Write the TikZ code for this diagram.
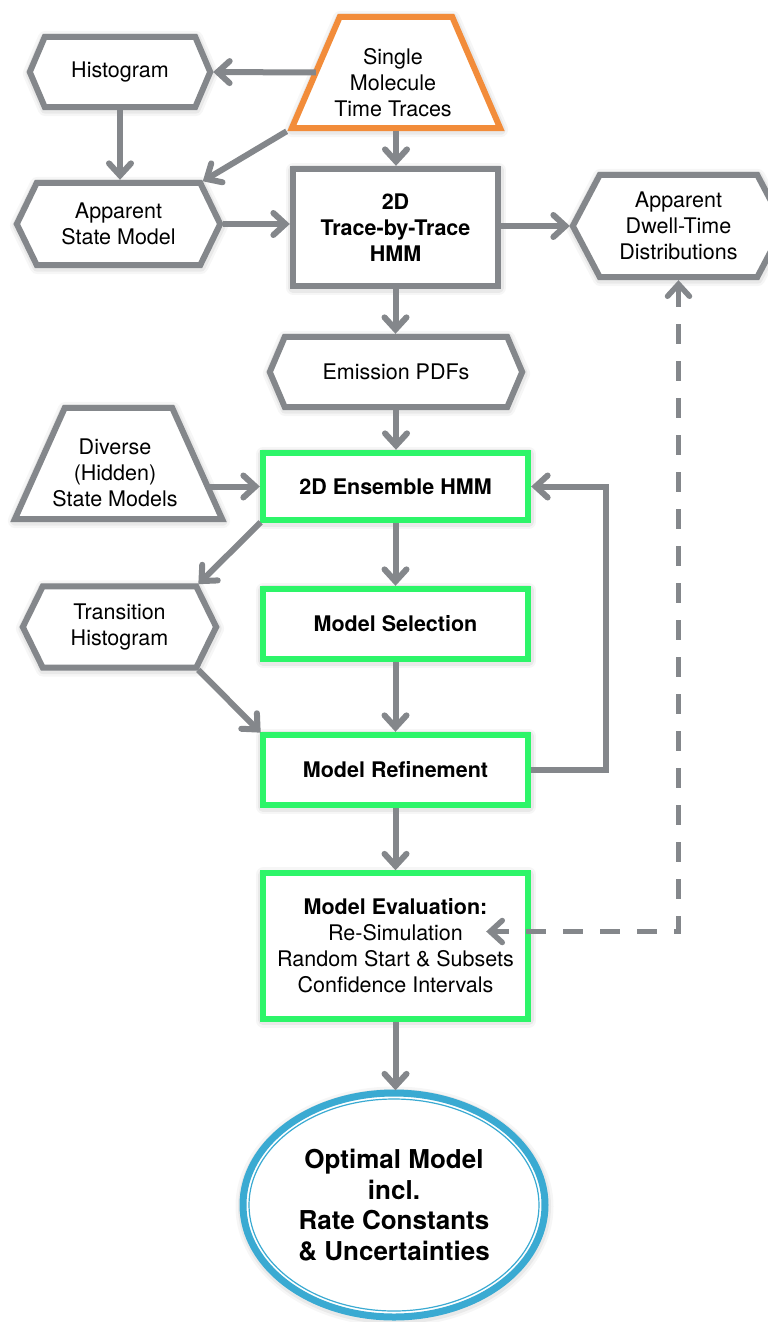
\documentclass[tikz,border=0pt]{standalone}
\usepackage{fontspec}
\setmainfont{TeX Gyre Heros}
\usetikzlibrary{arrows.meta,shapes.geometric,backgrounds,calc}

\definecolor{linegray}{RGB}{132,135,139}
\definecolor{flowgreen}{RGB}{45,245,105}
\definecolor{traceorange}{RGB}{242,140,58}
\definecolor{resultblue}{RGB}{58,170,210}

\newcommand\bodyfont{\fontsize{21.5}{26}\selectfont}

\begin{document}
\begin{tikzpicture}[x=1pt,y=-1pt,
  every node/.style={inner sep=0pt, font=\bodyfont, align=center},
  shapebox/.style 2 args={minimum width=#1, minimum height=#2},
  boldtext/.style={font=\bodyfont\bfseries},
  arr/.style={draw=linegray, line width=6pt, -{Straight Barb[length=12pt,width=22pt,line cap=round]},
    shorten >=3pt, shorten <=3pt},
  dasharr/.style={draw=linegray, line width=5.5pt, dash pattern=on 20pt off 17pt,
    {Straight Barb[length=12pt,width=22pt,line cap=round]}-{Straight Barb[length=12pt,width=22pt,line cap=round]},
    shorten >=3pt, shorten <=3pt},
  softshadow/.style={draw=black, opacity=#1, line join=round,
    transform canvas={shift={(0.5pt,-1.5pt)}}},
  outline/.style={fill=white, draw=#1, line width=6pt},
]
\useasboundingbox (0,0) rectangle (768,1322);

% ---------- nodes ----------
\node[shapebox={180}{70}] (hist) at (120,72) {Histogram};
\node[shapebox={208}{111}] (sm) at (396,72.5) {};
\node (smt) at (393,83) {Single\\Molecule\\Time Traces};
\node[shapebox={203}{82}] (asm) at (118.5,224) {Apparent\\State Model};
\node[shapebox={205}{117}, boldtext] (tbt) at (395.5,227.5) {2D\\Trace-by-Trace\\HMM};
\node[shapebox={211}{102}] (dwell) at (678.5,226) {Apparent\\Dwell-Time\\Distributions};
\node[shapebox={252}{70}] (emis) at (396,372) {Emission PDFs};
\node[shapebox={207}{111}] (div) at (118.5,463.5) {};
\node (divt) at (115,473) {Diverse\\(Hidden)\\State Models};
\node[shapebox={265}{67}, boldtext] (ens) at (395.5,486.5) {2D Ensemble HMM};
\node[shapebox={193}{81}] (trans) at (119.5,627) {Transition\\Histogram};
\node[shapebox={265}{70}, boldtext] (msel) at (395.5,624) {Model Selection};
\node[shapebox={265}{70}, boldtext] (mref) at (395.5,770) {Model Refinement};
\node[shapebox={265}{145}] (meval) at (395.5,946)
  {\textbf{Model Evaluation:}\\Re-Simulation\\Random Start \& Subsets\\Confidence Intervals};
\node[ellipse, minimum width=301, minimum height=221,
  font=\fontsize{26}{30.5}\selectfont\bfseries] (opt) at (394,1205)
  {Optimal Model\\incl.\\Rate Constants\\\& Uncertainties};

% ---------- outlines (behind the text) ----------
\begin{pgfonlayer}{background}
  % hexagons
  \foreach \n/\o in {hist/15,asm/20,dwell/27,emis/15,trans/20} {
    \foreach \w/\a in {15/0.035,10/0.05}
      \draw[softshadow=\a, line width=\w pt] (\n.west) -- ([xshift=\o]\n.north west)
        -- ([xshift=-\o]\n.north east) -- (\n.east) -- ([xshift=-\o]\n.south east)
        -- ([xshift=\o]\n.south west) -- cycle;
    \filldraw[outline=linegray] (\n.west) -- ([xshift=\o]\n.north west)
      -- ([xshift=-\o]\n.north east) -- (\n.east) -- ([xshift=-\o]\n.south east)
      -- ([xshift=\o]\n.south west) -- cycle;
  }
  % trapezoids
  \foreach \n/\o/\c in {sm/48/traceorange,div/50/linegray} {
    \foreach \w/\a in {15/0.035,10/0.05}
      \draw[softshadow=\a, line width=\w pt] (\n.south west) -- ([xshift=\o]\n.north west)
        -- ([xshift=-\o]\n.north east) -- (\n.south east) -- cycle;
    \filldraw[outline=\c] (\n.south west) -- ([xshift=\o]\n.north west)
      -- ([xshift=-\o]\n.north east) -- (\n.south east) -- cycle;
  }
  % process boxes
  \foreach \n/\c in {tbt/linegray,ens/flowgreen,msel/flowgreen,mref/flowgreen,meval/flowgreen} {
    \foreach \w/\a in {15/0.035,10/0.05}
      \draw[softshadow=\a, line width=\w pt] (\n.south west) rectangle (\n.north east);
    \filldraw[outline=\c] (\n.south west) rectangle (\n.north east);
  }
  % result ellipse with double rim
  \foreach \w/\a in {16/0.035,11/0.05}
    \draw[softshadow=\a, line width=\w pt] (opt.center) ellipse [x radius=151pt, y radius=112pt];
  \filldraw[fill=white, draw=resultblue, line width=7pt] (opt.center) ellipse [x radius=151pt, y radius=112pt];
  \draw[resultblue, line width=1.2pt] (opt.center) ellipse [x radius=145pt, y radius=106pt];
\end{pgfonlayer}

% ---------- connectors ----------
\draw[arr, shorten <=0pt] ([xshift=24pt]sm.west) -- (hist.east);
\draw[arr] (hist.south) -- (hist.south |- asm.north);
\draw[arr, shorten <=6pt] (sm.south west) -- ([xshift=-20pt]asm.north east);
\draw[arr] (sm.south) -- (sm.south |- tbt.north);
\draw[arr] (asm.east) -- (asm.east -| tbt.west);
\draw[arr] (tbt.east |- dwell.west) -- (dwell.west);
\draw[arr] (tbt.south) -- (tbt.south |- emis.north);
\draw[arr] (emis.south) -- (emis.south |- ens.north);
\draw[arr, shorten <=0pt] ([xshift=-14pt]div.east |- ens.west) -- (ens.west);
\draw[arr] (ens.south west) -- ([xshift=-20pt]trans.north east);
\draw[arr] (ens.south) -- (msel.north);
\draw[arr] ([xshift=-20pt]trans.south east) -- (mref.north west);
\draw[arr] (msel.south) -- (mref.north);
\draw[arr] (mref.east) -- ++(78,0) |- (ens.east);
\draw[arr] (mref.south) -- (meval.north);
\draw[arr, shorten >=4pt] (meval.south) -- (meval.south |- opt.north);

% dashed feedback from the evaluation to the dwell-time distributions
\coordinate (evaltip) at ([xshift=-45pt,yshift=14.5pt]meval.east);
\draw[dasharr] (dwell.south) -- (dwell.south |- evaltip) -- (evaltip);
\end{tikzpicture}
\end{document}
